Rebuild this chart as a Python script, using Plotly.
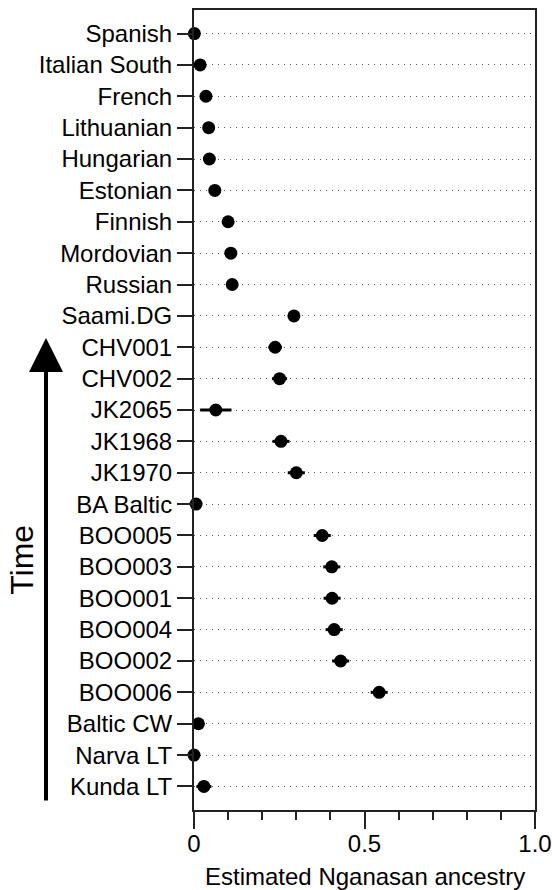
import plotly.graph_objects as go

populations = ["Spanish", "Italian South", "French", "Lithuanian", "Hungarian", "Estonian",
               "Finnish", "Mordovian", "Russian", "Saami.DG", "CHV001", "CHV002", "JK2065",
               "JK1968", "JK1970", "BA Baltic", "BOO005", "BOO003", "BOO001", "BOO004",
               "BOO002", "BOO006", "Baltic CW", "Narva LT", "Kunda LT"]
ancestry = [0.001, 0.018, 0.035, 0.043, 0.045, 0.061, 0.100, 0.108, 0.112, 0.293,
            0.238, 0.251, 0.064, 0.255, 0.300, 0.006, 0.376, 0.404, 0.405, 0.411,
            0.430, 0.543, 0.013, 0.000, 0.029]
std_err = [0.008, 0.012, 0.008, 0.008, 0.008, 0.008, 0.008, 0.008, 0.008, 0.015,
           0.020, 0.022, 0.046, 0.025, 0.025, 0.010, 0.025, 0.025, 0.025, 0.025,
           0.025, 0.025, 0.010, 0.010, 0.022]
x_tickvals = [0, 0.5, 1.0]
x_ticktext = ["0", "0.5", "1.0"]

FONT = "Liberation Sans, Arial, Helvetica, sans-serif"

fig = go.Figure()
fig.add_trace(go.Scatter(
    x=ancestry, y=populations, mode="markers",
    marker=dict(color="black", size=13),
    error_x=dict(type="data", array=std_err, thickness=3, width=0, color="black"),
    cliponaxis=False, showlegend=False,
))

fig.update_layout(
    width=552, height=890,
    margin=dict(l=194, r=17, t=10, b=80, autoexpand=False),
    plot_bgcolor="white", paper_bgcolor="white",
    font=dict(family=FONT, size=24, color="black"),
    xaxis=dict(
        range=[0, 1], tickvals=x_tickvals, ticktext=x_ticktext,
        ticks="outside", ticklen=17, tickwidth=2, tickcolor="#222",
        minor=dict(dtick=0.1, tick0=0, ticks="outside", ticklen=8, tickwidth=1.5, tickcolor="#222", showgrid=False),
        showline=True, linecolor="#222", linewidth=2, mirror=True,
        showgrid=False, zeroline=False, automargin=False,
        tickfont=dict(size=24), ticklabelstandoff=-6,
    ),
    yaxis=dict(
        categoryorder="array", categoryarray=populations,
        range=[len(populations) - 0.25, -0.75],
        ticks="outside", ticklen=15, tickwidth=2, tickcolor="#222",
        showline=True, linecolor="#222", linewidth=2, mirror=True,
        showgrid=True, gridcolor="#555", gridwidth=1.2, griddash="1px,5px",
        zeroline=False, automargin=False, tickfont=dict(size=24),
    ),
    annotations=[
        dict(text="Estimated Nganasan ancestry", xref="paper", yref="paper",
             x=0.5, y=-0.0825, xanchor="center", yanchor="middle",
             showarrow=False, font=dict(size=24)),
        dict(text="Time", xref="paper", yref="paper", x=-0.505, y=0.3125,
             xanchor="center", yanchor="middle", textangle=-90,
             showarrow=False, font=dict(size=32)),
        dict(text="", xref="paper", yref="paper", x=-0.434, y=0.59,
             axref="pixel", ayref="pixel", ax=0, ay=464,
             showarrow=True, arrowhead=2, arrowsize=1.7, arrowwidth=4,
             arrowcolor="black", standoff=0, startstandoff=0),
    ],
)

fig.write_html("out.html")
